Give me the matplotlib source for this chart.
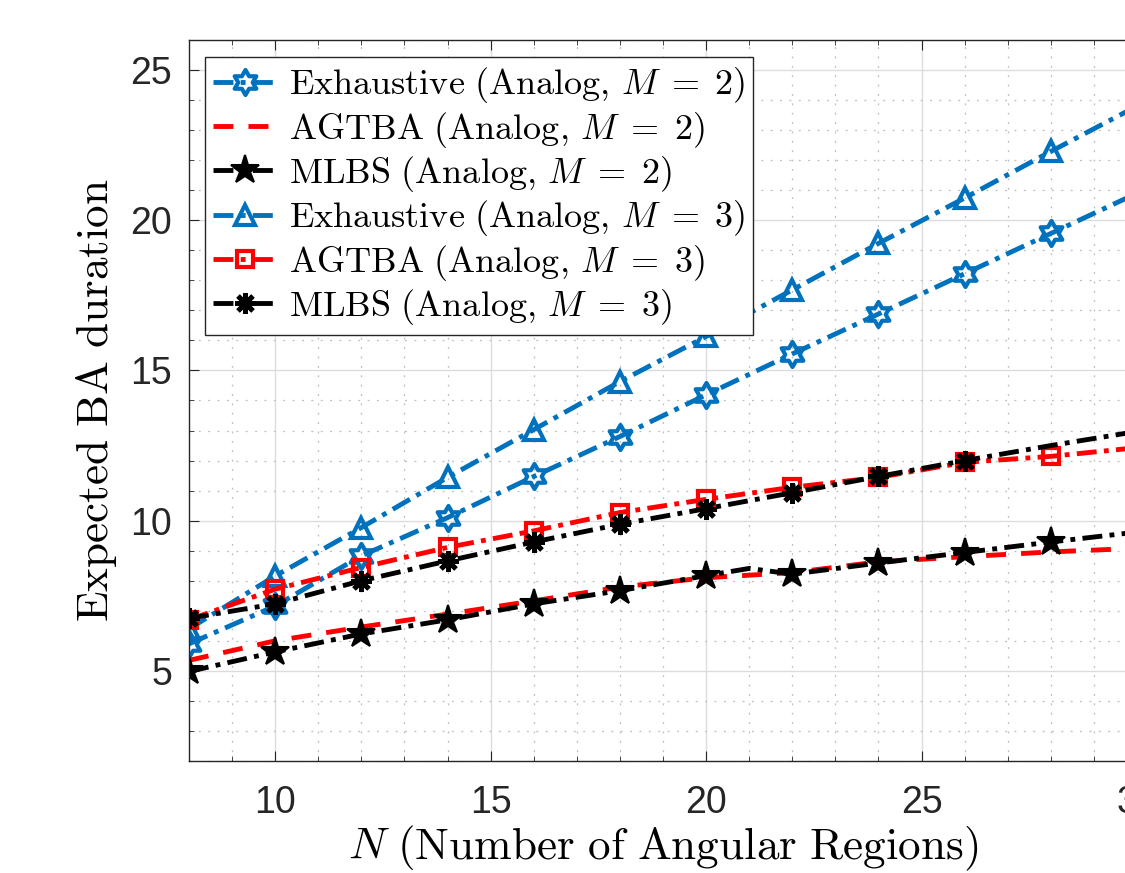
import numpy as np
import matplotlib
matplotlib.use("Agg")
import matplotlib.pyplot as plt
from matplotlib.path import Path
from matplotlib.ticker import MultipleLocator

plt.rcParams["mathtext.fontset"] = "cm"

# ── data ──────────────────────────────────────────────────────────────────────
n_even = [8, 10, 12, 14, 16, 18, 20, 22, 24, 26, 28, 30]
n_mlbs2 = [8, 10, 12, 14, 16, 18, 20, 21, 22, 24, 26, 28, 30]

exh_m2 = [5.90, 7.16, 8.83, 10.10, 11.47, 12.80, 14.19, 15.55, 16.88, 18.22, 19.56, 20.90]
agtba_m2 = [5.35, 6.00, 6.46, 6.89, 7.33, 7.79, 8.10, 8.27, 8.63, 8.80, 8.96, 9.08]
mlbs_m2 = [4.98, 5.63, 6.23, 6.70, 7.23, 7.67, 8.17, 8.41, 8.22, 8.59, 8.94, 9.29, 9.62]
exh_m3 = [6.40, 8.16, 9.77, 11.44, 13.03, 14.63, 16.13, 17.68, 19.23, 20.74, 22.29, 23.80]
agtba_m3 = [6.70, 7.72, 8.44, 9.11, 9.66, 10.27, 10.71, 11.11, 11.44, 11.94, 12.14, 12.43]
mlbs_m3 = [6.75, 7.23, 8.00, 8.66, 9.29, 9.88, 10.40, 10.93, 11.47, 12.00, 12.50, 12.97]

labels = [
    r"$\mathrm{Exhaustive\ (Analog,}\,M\;=\;2\mathrm{)}$",
    r"$\mathrm{AGTBA\ (Analog,}\,M\;=\;2\mathrm{)}$",
    r"$\mathrm{MLBS\ (Analog,}\,M\;=\;2\mathrm{)}$",
    r"$\mathrm{Exhaustive\ (Analog,}\,M\;=\;3\mathrm{)}$",
    r"$\mathrm{AGTBA\ (Analog,}\,M\;=\;3\mathrm{)}$",
    r"$\mathrm{MLBS\ (Analog,}\,M\;=\;3\mathrm{)}$",
]

# ── style ─────────────────────────────────────────────────────────────────────
BLUE = "#0072BD"
RED = "#FF0000"
BLACK = "#000000"
AXC = "#262626"
DASHDOT = (0, (4.1, 1.5, 1.0, 1.5))
DASHED = (0, (4.1, 3.1))
LW = 3.5

# hexagram marker (MATLAB 'h')
ang_out = np.deg2rad(90 + 60 * np.arange(6))
ang_in = ang_out + np.deg2rad(30)
r_in = 1 / np.sqrt(3)
verts = []
for ao, ai in zip(ang_out, ang_in):
    verts.append((np.cos(ao), np.sin(ao)))
    verts.append((r_in * np.cos(ai), r_in * np.sin(ai)))
verts.append(verts[0])
HEXAGRAM = Path(verts, [Path.MOVETO] + [Path.LINETO] * 11 + [Path.CLOSEPOLY])

fig = plt.figure(figsize=(11.25, 8.73), dpi=100)
ax = fig.add_axes([0.168, 0.1283, 0.8427, 0.8259])

even_marks = list(range(11))
mlbs2_marks = [0, 1, 2, 3, 4, 5, 6, 8, 9, 10, 11]

ax.plot(n_even, exh_m2, color=BLUE, lw=LW, ls=DASHDOT, marker=HEXAGRAM,
        ms=18, mfc="none", mew=3, markevery=even_marks, label=labels[0])
ax.plot(n_even, agtba_m2, color=RED, lw=LW, ls=DASHED, label=labels[1])
ax.plot(n_mlbs2, mlbs_m2, color=BLACK, lw=LW, ls=DASHDOT, marker="*",
        ms=21, mew=1.5, markevery=mlbs2_marks, label=labels[2])
ax.plot(n_even, exh_m3, color=BLUE, lw=LW, ls=DASHDOT, marker="^",
        ms=15, mfc="none", mew=3, markevery=even_marks, label=labels[3])
ax.plot(n_even, agtba_m3, color=RED, lw=LW, ls=DASHDOT, marker="s",
        ms=11, mfc="none", mew=3, markevery=even_marks, label=labels[4])
ax.plot(n_even, mlbs_m3, color=BLACK, lw=LW, ls=DASHDOT, marker=(8, 2, 0),
        ms=15, mew=3.5, markevery=list(range(10)), label=labels[5])

ax.set_xlim(8, 30)
ax.set_ylim(2, 26)
ax.xaxis.set_major_locator(MultipleLocator(5))
ax.xaxis.set_minor_locator(MultipleLocator(1))
ax.yaxis.set_major_locator(MultipleLocator(5))
ax.yaxis.set_minor_locator(MultipleLocator(1))

ax.set_axisbelow(True)
ax.grid(which="major", color="#dcdcdc", lw=1.0, ls="-")
ax.grid(which="minor", color="#bdbdbd", lw=0.9, ls=(0, (1.5, 6)))

for sp in ax.spines.values():
    sp.set_color(AXC)
    sp.set_linewidth(1.0)
ax.tick_params(which="both", direction="in", top=True, right=True,
               colors=AXC, labelsize=27)
ax.tick_params(which="major", length=7)
ax.tick_params(which="minor", length=3.5)
ax.tick_params(axis="x", pad=17)
ax.tick_params(axis="y", pad=12)
for lab in ax.get_xticklabels() + ax.get_yticklabels():
    lab.set_fontfamily("Liberation Sans")

ax.set_xlabel(r"$N\ \mathrm{(Number\ of\ Angular\ Regions)}$", fontsize=32.5, labelpad=2)
ax.set_ylabel(r"$\mathrm{Expected\ BA\ duration}$", fontsize=32.5, labelpad=8)

leg = ax.legend(loc="upper left", bbox_to_anchor=(0.0169, 0.976),
                borderaxespad=0, fontsize=26, handlelength=1.8,
                handletextpad=0.3, labelspacing=0.12, borderpad=0.22,
                fancybox=False, framealpha=1, edgecolor=AXC, numpoints=1)
leg.get_frame().set_linewidth(1.0)

fig.savefig("out.png", dpi=100)
